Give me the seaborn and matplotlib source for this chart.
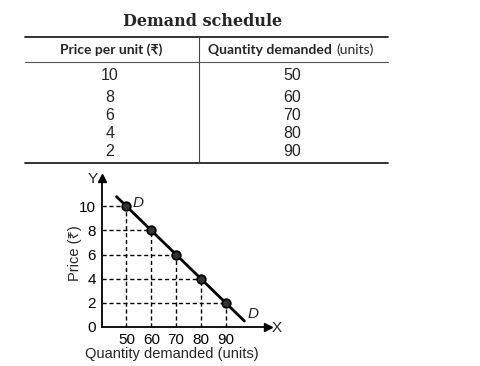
import matplotlib
matplotlib.use("Agg")
import matplotlib.pyplot as plt
import seaborn as sns
from matplotlib.lines import Line2D

# demand schedule
price = [10, 8, 6, 4, 2]
quantity = [50, 60, 70, 80, 90]
# ends of the drawn demand curve DD
curve_q = [46, 97.5]
curve_p = [10.8, 0.5]
y_ticks = [0, 2, 4, 6, 8, 10]
x_ticks = [50, 60, 70, 80, 90]

sns.set_theme(style="white")
plt.rcParams['font.family'] = ['Liberation Sans', 'Noto Sans', 'DejaVu Sans']

W, H = 481, 366
fig = plt.figure(figsize=(W / 100, H / 100), dpi=100)


def fx(px):
    return px / W


def fy(py):
    return 1 - py / H


# ---- table ----
fig.text(fx(203), fy(22), 'Demand schedule', ha='center', va='center',
         family=['DejaVu Serif'], fontweight='bold', fontsize=11.5)
for yy, lw, c in [(37, 1.3, '#222222'), (61.5, 0.8, '#555555'), (163, 1.3, '#222222')]:
    fig.add_artist(Line2D([fx(25), fx(388)], [fy(yy), fy(yy)], color=c, lw=lw))
fig.add_artist(Line2D([fx(199), fx(199)], [fy(37), fy(163)], color='#444444', lw=0.8))

hdr = ['Lato', 'Noto Sans', 'DejaVu Sans']
fig.text(fx(111), fy(50), 'Price per unit (₹)', ha='center', va='center',
         family=hdr, fontweight='bold', fontsize=10)
qt = fig.text(fx(208), fy(50), 'Quantity demanded', ha='left', va='center',
              family=hdr, fontweight='bold', fontsize=10)
fig.canvas.draw()
bb = qt.get_window_extent()
fig.text((bb.x1 + 5) / W, fy(50), '(units)', ha='left', va='center',
         family=hdr, fontsize=10)

row_y = [75, 98, 115, 133, 151]
for ry, p, q in zip(row_y, price, quantity):
    fig.text(fx(110), fy(ry), str(p), ha='center', va='center', fontsize=11.5)
    fig.text(fx(292), fy(ry), str(q), ha='center', va='center', fontsize=11.5)

# ---- graph ----
ax = fig.add_axes([fx(101.7), 39 / H, 166 / W, 149 / H])
xmin = 40
for q, p in zip(quantity, price):
    ax.plot([q, q], [0, p], ls=(0, (3, 2)), color='black', lw=1)
    ax.plot([xmin, q], [p, p], ls=(0, (3, 2)), color='black', lw=1)
sns.lineplot(x=curve_q, y=curve_p, ax=ax, color='black', lw=2)
sns.scatterplot(x=quantity, y=price, ax=ax, s=38, color='#333333',
                edgecolor='black', linewidth=1.3, zorder=5)

ax.set_xlim(xmin, 40 + 166 / 2.48)
ax.set_ylim(0, 149 / 12.07)
ax.set_xticks(x_ticks)
ax.set_yticks(y_ticks)
ax.tick_params(length=0, labelsize=11, pad=4, colors='black')
for s in ['top', 'right']:
    ax.spines[s].set_visible(False)
for s in ['left', 'bottom']:
    ax.spines[s].set_color('black')
    ax.spines[s].set_linewidth(1.3)
ax.plot(1, 0, marker='>', ms=6, color='black', transform=ax.transAxes, clip_on=False)
ax.plot(0, 1, marker='^', ms=6, color='black', transform=ax.transAxes, clip_on=False)

fig.text(fx(93), fy(179), 'Y', ha='center', va='center', fontsize=11)
fig.text(fx(277), fy(328), 'X', ha='center', va='center', fontsize=11)
fig.text(fx(138), fy(203), 'D', ha='center', va='center', fontsize=11, style='italic')
fig.text(fx(253), fy(314), 'D', ha='center', va='center', fontsize=11, style='italic')
fig.text(fx(172), fy(354), 'Quantity demanded (units)', ha='center', va='center', fontsize=10.5)
fig.text(fx(75), fy(253), 'Price (₹)', ha='center', va='center', rotation=90, fontsize=10.5)

fig.savefig('out.png', dpi=100)
